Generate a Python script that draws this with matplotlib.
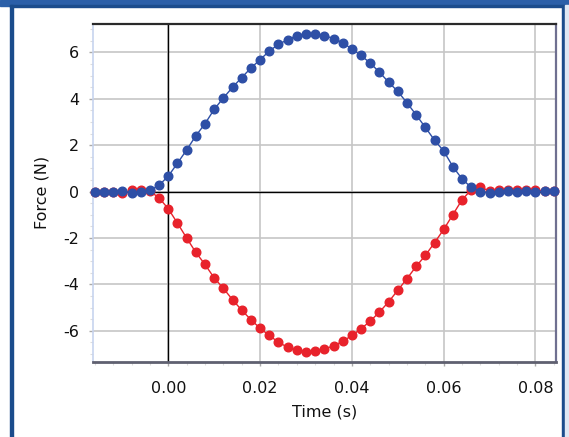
import numpy as np
import matplotlib
matplotlib.use("Agg")
import matplotlib.pyplot as plt
from matplotlib.patches import Rectangle
from matplotlib.ticker import MultipleLocator, FormatStrFormatter

# ---- data ----
time = np.round(np.arange(-0.016, 0.0841, 0.002), 3)
force_blue = [0.0, 0.0, 0.0, 0.03, -0.05, 0.0, 0.05, 0.28, 0.67, 1.23,
              1.80, 2.41, 2.93, 3.55, 4.04, 4.50, 4.92, 5.33, 5.69, 6.06,
              6.35, 6.55, 6.73, 6.81, 6.81, 6.73, 6.60, 6.42, 6.15, 5.87,
              5.54, 5.15, 4.72, 4.32, 3.83, 3.31, 2.77, 2.22, 1.75, 1.08,
              0.55, 0.18, 0.0, -0.05, 0.0, 0.02, 0.0, 0.02, 0.0, 0.01, 0.01]
force_red = [0.0, 0.0, 0.0, -0.04, 0.05, 0.05, 0.02, -0.27, -0.74, -1.36,
             -2.00, -2.62, -3.14, -3.72, -4.17, -4.66, -5.11, -5.52, -5.89, -6.20,
             -6.49, -6.71, -6.84, -6.91, -6.85, -6.78, -6.65, -6.45, -6.20, -5.91,
             -5.58, -5.19, -4.75, -4.25, -3.75, -3.22, -2.75, -2.20, -1.63, -0.99,
             -0.35, 0.08, 0.19, 0.03, 0.05, 0.05, 0.05, 0.05, 0.05, 0.04, 0.04]
x_ticks = [0.00, 0.02, 0.04, 0.06, 0.08]
y_ticks = [-6, -4, -2, 0, 2, 4, 6]

W, H = 569, 437
fig = plt.figure(figsize=(W / 100, H / 100), dpi=100)
fig.patch.set_facecolor("white")

# frame decorations (banner + dark blue border)
def px_rect(x0, y0, w, h, color, z=0):
    fig.patches.append(Rectangle((x0 / W, 1 - (y0 + h) / H), w / W, h / H,
                                 transform=fig.transFigure, color=color, zorder=z))
px_rect(0, 0, W, 6, "#2b5fa8")
px_rect(10, 5, 553, 2, "#1b4c8c")
px_rect(10, 5, 2.5, H - 5, "#1b4c8c")
px_rect(561.5, 5, 3.5, H - 5, "#1b4c8c")
px_rect(565, 5, 4, H - 5, "#dfe8f4")

ax = fig.add_axes([93 / W, 1 - 361.7 / H, (555.5 - 93) / W, (361.7 - 23.7) / H])
ax.set_facecolor("white")

ax.plot(time, force_red, "-o", color="#e8222b", lw=1.0, ms=6.2, mec="#e8222b",
        zorder=3, clip_on=False)
ax.plot(time, force_blue, "-o", color="#2e4fa6", lw=1.0, ms=6.2, mec="#2e4fa6",
        zorder=4, clip_on=False)

ax.axhline(0, color="black", lw=1.0, zorder=2)
ax.axvline(0, color="black", lw=1.0, zorder=2)

ax.set_xlim(-0.01641, 0.08436)
ax.set_ylim(-7.33, 7.24)
ax.set_xticks(x_ticks)
ax.set_yticks(y_ticks)
ax.xaxis.set_major_formatter(FormatStrFormatter("%.2f"))
ax.yaxis.set_major_formatter(FormatStrFormatter("%d"))
ax.xaxis.set_minor_locator(MultipleLocator(0.004))
ax.yaxis.set_minor_locator(MultipleLocator(0.5))
ax.grid(True, which="major", color="#c6c6c6", lw=1.2, zorder=1)
ax.set_axisbelow(True)

ax.tick_params(axis="both", which="major", length=3, width=1, color="#aaaaaa",
               labelsize=11.5, labelcolor="#111111")
ax.tick_params(axis="y", which="major", pad=7)
ax.tick_params(axis="x", which="major", pad=11)
ax.tick_params(axis="both", which="minor", length=2, width=0.8, color="#dddddd")

ax.spines["top"].set_color("#2a2a2a")
ax.spines["top"].set_linewidth(1.6)
ax.spines["right"].set_color("#6f7090")
ax.spines["right"].set_linewidth(1.6)
ax.spines["bottom"].set_color("#5f6070")
ax.spines["bottom"].set_linewidth(2.0)
ax.spines["left"].set_color("#c7d4ef")
ax.spines["left"].set_linewidth(1.2)

ax.set_xlabel("Time (s)", fontsize=11.5, color="#111111", labelpad=6)
ax.set_ylabel("Force (N)", fontsize=11.5, color="#111111", labelpad=10)

fig.savefig("out.png", dpi=100)
